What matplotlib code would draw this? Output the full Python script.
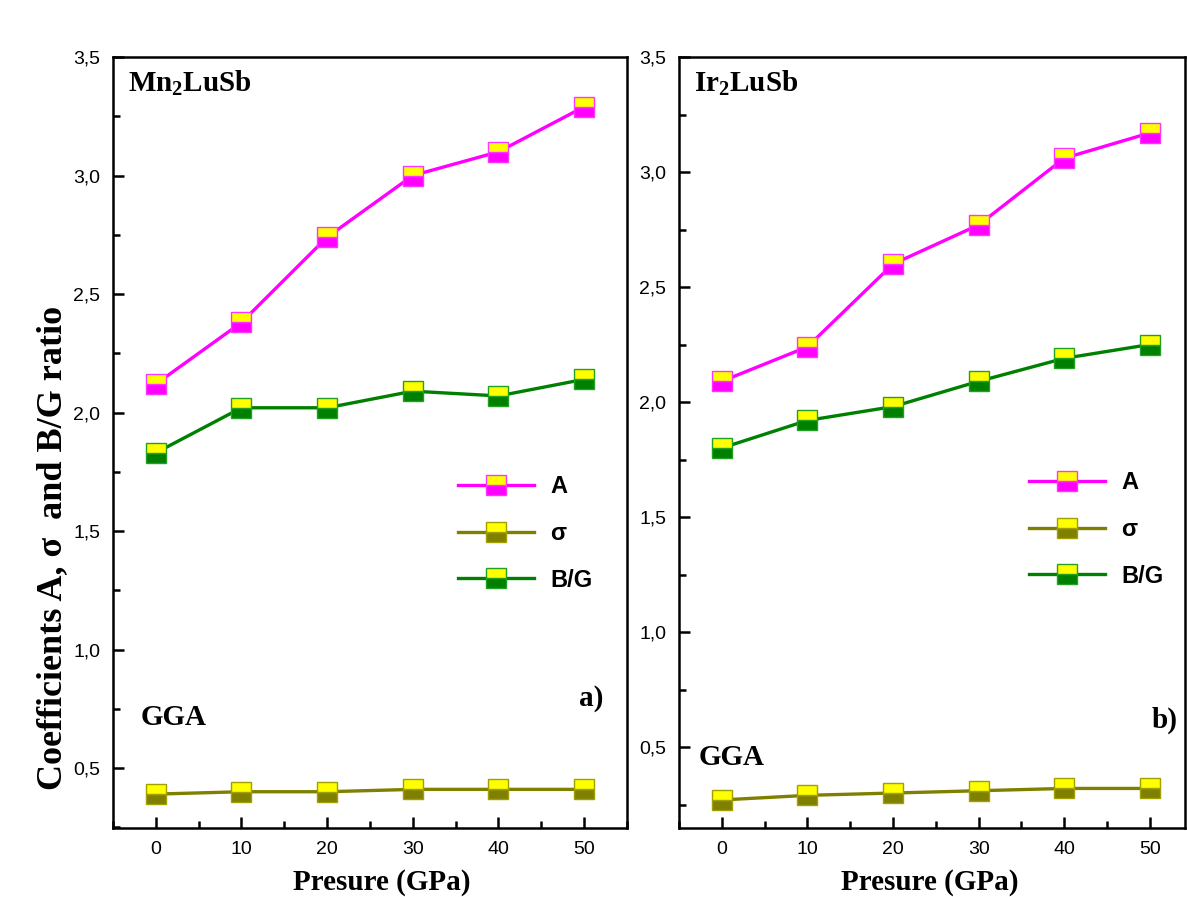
import matplotlib
matplotlib.use("Agg")
import matplotlib.pyplot as plt
from matplotlib.ticker import FuncFormatter, MultipleLocator

pressure = [0, 10, 20, 30, 40, 50]

mn_A = [2.12, 2.38, 2.74, 3.00, 3.10, 3.29]
mn_sigma = [0.39, 0.40, 0.40, 0.41, 0.41, 0.41]
mn_BG = [1.83, 2.02, 2.02, 2.09, 2.07, 2.14]

ir_A = [2.09, 2.24, 2.60, 2.77, 3.06, 3.17]
ir_sigma = [0.27, 0.29, 0.30, 0.31, 0.32, 0.32]
ir_BG = [1.80, 1.92, 1.98, 2.09, 2.19, 2.25]

series_labels = ["A", "\u03c3", "B/G"]
series_colors = ["#ff00ff", "#808000", "#008000"]
edge_colors = ["#ff33ff", "#a0a000", "#22a022"]

serif = ["Liberation Serif", "DejaVu Serif"]
sans = ["Liberation Sans", "DejaVu Sans"]

plt.rcParams["mathtext.fontset"] = "custom"
plt.rcParams["mathtext.rm"] = "Liberation Serif"
plt.rcParams["mathtext.bf"] = "Liberation Serif:bold"

fig = plt.figure(figsize=(11.87, 8.97), dpi=100)
W, H = 1187, 897


def box(l, r, t, b):
    return [l / W, 1 - b / H, (r - l) / W, (b - t) / H]


ax1 = fig.add_axes(box(113, 627, 57, 828))
ax2 = fig.add_axes(box(679, 1185, 57, 828))

comma = FuncFormatter(lambda v, p: f"{v:.1f}".replace(".", ","))


def draw(ax, data, ylim, xlim, title, tag, tag_xy, gga_xy, leg_anchor, xlab_x):
    handles = []
    for vals, lab, c, ec in zip(data, series_labels, series_colors, edge_colors):
        h, = ax.plot(pressure, vals, color=c, lw=2.4, marker="s", markersize=14,
                     fillstyle="bottom", markerfacecolor=c,
                     markerfacecoloralt="#ffff00", markeredgecolor=ec,
                     markeredgewidth=1.0, label=lab)
        handles.append(h)
    ax.set_xlim(*xlim)
    ax.set_ylim(*ylim)
    ax.xaxis.set_major_locator(MultipleLocator(10))
    ax.xaxis.set_minor_locator(MultipleLocator(5))
    ax.yaxis.set_major_locator(MultipleLocator(0.5))
    ax.yaxis.set_minor_locator(MultipleLocator(0.25))
    ax.yaxis.set_major_formatter(comma)
    ax.tick_params(which="both", direction="in", top=False, right=False,
                   width=1.8)
    ax.tick_params(which="major", length=8, labelsize=14, pad=9)
    ax.tick_params(which="minor", length=5)
    for lbl in ax.get_xticklabels() + ax.get_yticklabels():
        lbl.set_fontfamily(sans)
    for s in ax.spines.values():
        s.set_linewidth(1.8)
    ax.set_xlabel("Presure (GPa)", fontfamily=serif, fontweight="bold",
                  fontsize=21)
    ax.xaxis.set_label_coords(xlab_x, -0.053, transform=ax.transAxes)
    ax.xaxis.label.set_va("top")
    ax.text(0.03, 0.985, title, transform=ax.transAxes, ha="left", va="top",
            fontfamily=serif, fontweight="bold", fontsize=21)
    ax.text(*gga_xy, "GGA", transform=ax.transAxes, ha="left", va="center",
            fontfamily=serif, fontweight="bold", fontsize=21)
    ax.text(*tag_xy, tag, transform=ax.transAxes, ha="right", va="center",
            fontfamily=serif, fontweight="bold", fontsize=21)
    leg = ax.legend(handles=handles, loc="upper left", bbox_to_anchor=leg_anchor,
                    frameon=False, handlelength=3.2, labelspacing=1.0,
                    prop={"family": sans, "weight": "bold", "size": 17},
                    handletextpad=0.7)
    return leg


draw(ax1, [mn_A, mn_sigma, mn_BG], (0.247, 3.5), (-5.0, 55.0),
     "Mn$_\\mathbf{2}$LuSb", "a)", (0.955, 0.168), (0.053, 0.143), (0.63, 0.485),
     0.523)
draw(ax2, [ir_A, ir_sigma, ir_BG], (0.148, 3.5), (-5.0, 54.1),
     "Ir$_\\mathbf{2}$LuSb", "b)", (0.985, 0.14), (0.038, 0.092), (0.65, 0.49),
     0.495)

ax1.set_ylabel("Coefficients A, \u03c3  and B/G ratio", fontfamily=serif,
               fontweight="bold", fontsize=26)
ax1.yaxis.set_label_coords(-0.118, 0.363, transform=ax1.transAxes)
ax1.yaxis.label.set_va("center")

fig.savefig("out.png", dpi=100)
